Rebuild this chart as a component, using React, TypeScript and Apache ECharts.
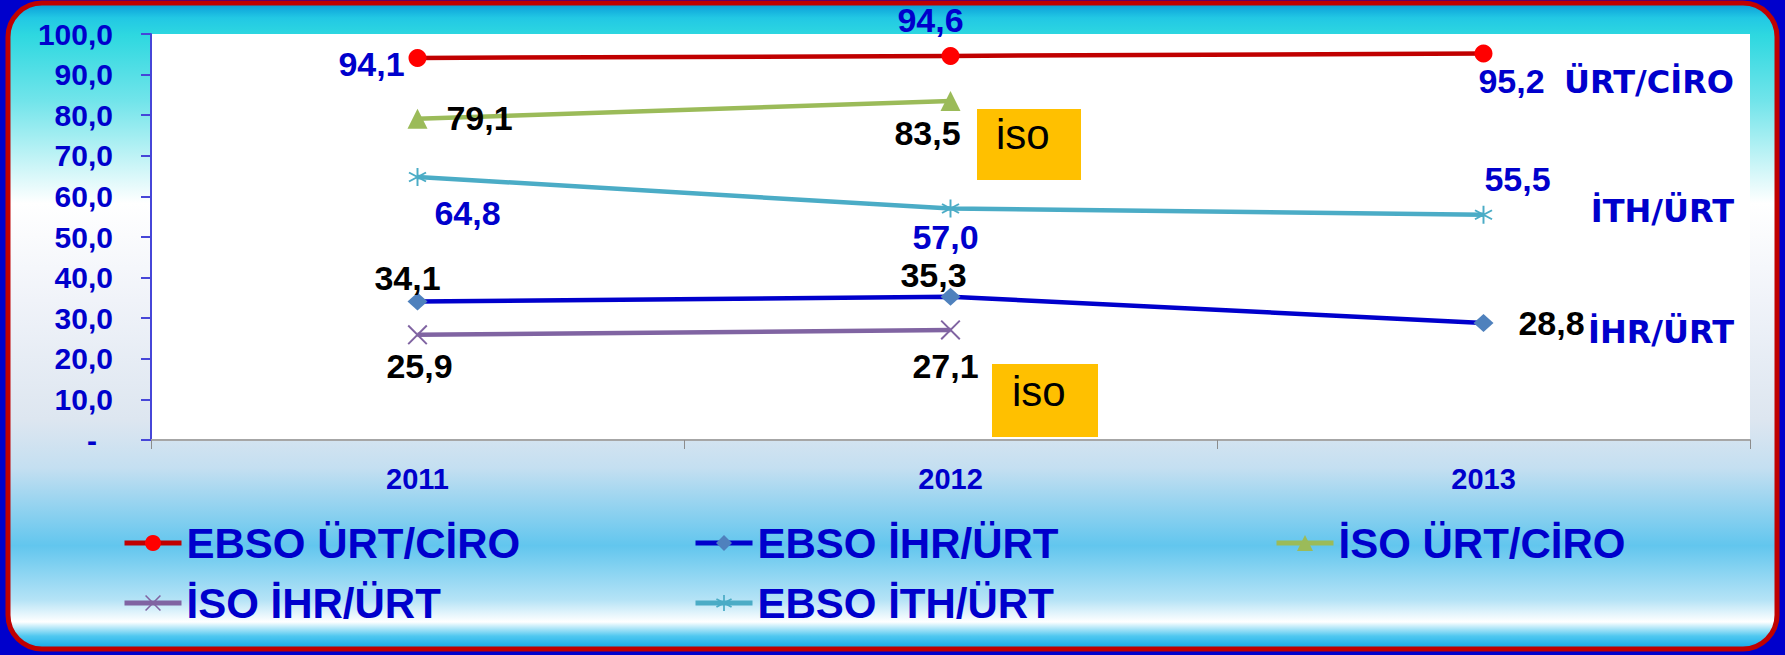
import React, { useEffect, useRef } from "react";
import * as echarts from "echarts";

const categories = ["2011", "2012", "2013"];
const ebsoUrtCiro = [94.1, 94.6, 95.2];
const ebsoIhrUrt = [34.1, 35.3, 28.8];
const isoUrtCiro = [79.1, 83.5, null];
const isoIhrUrt = [25.9, 27.1, null];
const ebsoIthUrt = [64.8, 57.0, 55.5];
const seriesNames = ["EBSO ÜRT/CİRO", "EBSO İHR/ÜRT", "İSO ÜRT/CİRO", "İSO İHR/ÜRT", "EBSO İTH/ÜRT"];
const sideNotes = ["ÜRT/CİRO", "İTH/ÜRT", "İHR/ÜRT"];
const boxNote = "iso";

// label offsets (style only)
const offRed = [[-46, 6], [-20, -36], [28, 28]];
const offBlue = [[-10, -24], [-17, -22], [68, 0]];
const offGreen = [[62, -1], [-23, 32], [0, 0]];
const offPurple = [[2, 31], [-5, 36], [0, 0]];
const offCyan = [[50, 36], [-5, 28], [34, -36]];

const STAR = "path://M9 0L11 0L11 20L9 20Z M0.8 5.87L1.8 4.13L19.2 14.13L18.2 15.87Z M1.8 15.87L0.8 14.13L18.2 4.13L19.2 5.87Z";
const XMARK = "path://M0 1.4L1.4 0L20 18.6L18.6 20Z M18.6 0L20 1.4L1.4 20L0 18.6Z";

const fmt = (v: number) => v.toFixed(1).replace(".", ",");

function mkData(vals: (number | null)[], offs: number[][]) {
  return vals.map((v, i) => (v == null ? null : { value: v, label: { offset: offs[i] } }));
}

export default function App() {
  const ref = useRef<HTMLDivElement>(null);
  useEffect(() => {
    document.body.style.margin = "0";
    const chart = echarts.init(ref.current!, undefined, { renderer: "svg" });
    const labelBase = (color: string) => ({
      show: true,
      position: "inside",
      color,
      fontFamily: "Liberation Sans, Arial",
      fontWeight: "bold",
      fontSize: 34,
      textBorderWidth: 0,
      formatter: (p: any) => fmt(p.value),
    });
    const legendBase = {
      itemWidth: 57,
      itemHeight: 20,
      padding: 0,
      selectedMode: false,
      lineStyle: { width: 5 },
      textStyle: {
        color: "#0000cc",
        fontFamily: "Liberation Sans, Arial",
        fontWeight: "bold",
        fontSize: 42,
        lineHeight: 42,
      },
    };
    const mkLine = (name: string, data: any, color: string, symColor: string, symbol: string, size: any, lblColor: string) => ({
      name,
      type: "line",
      data,
      symbol,
      symbolSize: size,
      connectNulls: false,
      lineStyle: { color, width: 4.5 },
      itemStyle: { color: symColor },
      label: labelBase(lblColor),
    });
    chart.setOption({
      animation: false,
      backgroundColor: "#0000cc",
      grid: {
        left: 151,
        right: 35,
        top: 34,
        bottom: 215,
        show: true,
        backgroundColor: "#ffffff",
        borderWidth: 0,
      },
      xAxis: {
        type: "category",
        data: categories,
        boundaryGap: true,
        axisLine: { lineStyle: { color: "#a6a6a6", width: 2 } },
        axisTick: { show: true, length: 9, interval: 0, lineStyle: { color: "#8c8c8c", width: 1 } },
        axisLabel: {
          color: "#0000cc",
          fontFamily: "Liberation Sans, Arial",
          fontWeight: "bold",
          fontSize: 29,
          margin: 24,
        },
        splitLine: { show: false },
      },
      yAxis: {
        type: "value",
        min: 0,
        max: 100,
        interval: 10,
        axisLine: { show: true, lineStyle: { color: "#4646d8", width: 2 } },
        axisTick: { show: true, length: 10, lineStyle: { color: "#4646d8", width: 2 } },
        splitLine: { show: false },
        axisLabel: {
          margin: 38,
          color: "#0000cc",
          fontFamily: "Liberation Sans, Arial",
          fontWeight: "bold",
          fontSize: 30,
          formatter: (v: number) => (v === 0 ? "{d|-}" : fmt(v)),
          rich: {
            d: {
              color: "#0000cc",
              fontFamily: "Liberation Sans, Arial",
              fontWeight: "bold",
              fontSize: 30,
              padding: [0, 16, 0, 0],
            },
          },
        },
      },
      legend: [
        { ...legendBase, data: [seriesNames[0]], left: 122, top: 522 },
        { ...legendBase, data: [seriesNames[1]], left: 693, top: 522 },
        { ...legendBase, data: [seriesNames[2]], left: 1274, top: 522 },
        { ...legendBase, data: [seriesNames[3]], left: 122, top: 582 },
        { ...legendBase, data: [seriesNames[4]], left: 693, top: 582 },
      ],
      graphic: [
        {
          type: "rect",
          z: -100,
          silent: true,
          shape: { x: 8, y: 3, width: 1769, height: 646, r: 34 },
          style: {
            fill: new echarts.graphic.LinearGradient(0, 0, 0, 1, [
              { offset: 0, color: "#0898d8" },
              { offset: 0.023, color: "#22c8e4" },
              { offset: 0.05, color: "#2ed8e0" },
              { offset: 0.15, color: "#70e4ea" },
              { offset: 0.31, color: "#ffffff" },
              { offset: 0.46, color: "#f0f3f9" },
              { offset: 0.645, color: "#dde6f0" },
              { offset: 0.72, color: "#c4dff1" },
              { offset: 0.84, color: "#62c6ee" },
              { offset: 0.924, color: "#b5e3f6" },
              { offset: 0.958, color: "#ffffff" },
              { offset: 0.98, color: "#50c8f0" },
              { offset: 1, color: "#10a8e8" },
            ]),
            stroke: "#c00000",
            lineWidth: 5,
          },
        },
        {
          type: "rect",
          z: 100,
          shape: { x: 977, y: 109, width: 104, height: 71 },
          style: { fill: "#ffc000" },
        },
        {
          type: "text",
          z: 101,
          x: 996,
          y: 134,
          style: {
            text: boxNote,
            fill: "#000000",
            font: "42px 'Liberation Sans', Arial",
            verticalAlign: "middle",
          },
        },
        {
          type: "rect",
          z: 100,
          shape: { x: 992, y: 364, width: 106, height: 73 },
          style: { fill: "#ffc000" },
        },
        {
          type: "text",
          z: 101,
          x: 1012,
          y: 391,
          style: {
            text: boxNote,
            fill: "#000000",
            font: "42px 'Liberation Sans', Arial",
            verticalAlign: "middle",
          },
        },
        ...sideNotes.map((t, i) => ({
          type: "text",
          z: 101,
          x: 1734,
          y: [82, 211, 332][i],
          style: {
            text: t,
            fill: "#0000cc",
            font: "bold 32px 'DejaVu Sans', Verdana",
            align: "right",
            verticalAlign: "middle",
          },
        })),
      ],
      series: [
        mkLine(seriesNames[0], mkData(ebsoUrtCiro, offRed), "#c00000", "#ff0000", "circle", 18, "#0000cc"),
        mkLine(seriesNames[1], mkData(ebsoIhrUrt, offBlue), "#0000cc", "#4f81bd", "diamond", [20, 18], "#000000"),
        mkLine(seriesNames[2], mkData(isoUrtCiro, offGreen), "#9bbb59", "#9bbb59", "triangle", 20, "#000000"),
        mkLine(seriesNames[3], mkData(isoIhrUrt, offPurple), "#8064a2", "#8064a2", XMARK, 20, "#000000"),
        mkLine(seriesNames[4], mkData(ebsoIthUrt, offCyan), "#4bacc6", "#4bacc6", STAR, 18, "#0000cc"),
      ],
    });
    return () => chart.dispose();
  }, []);
  return <div ref={ref} style={{ width: 1785, height: 655 }} />;
}
